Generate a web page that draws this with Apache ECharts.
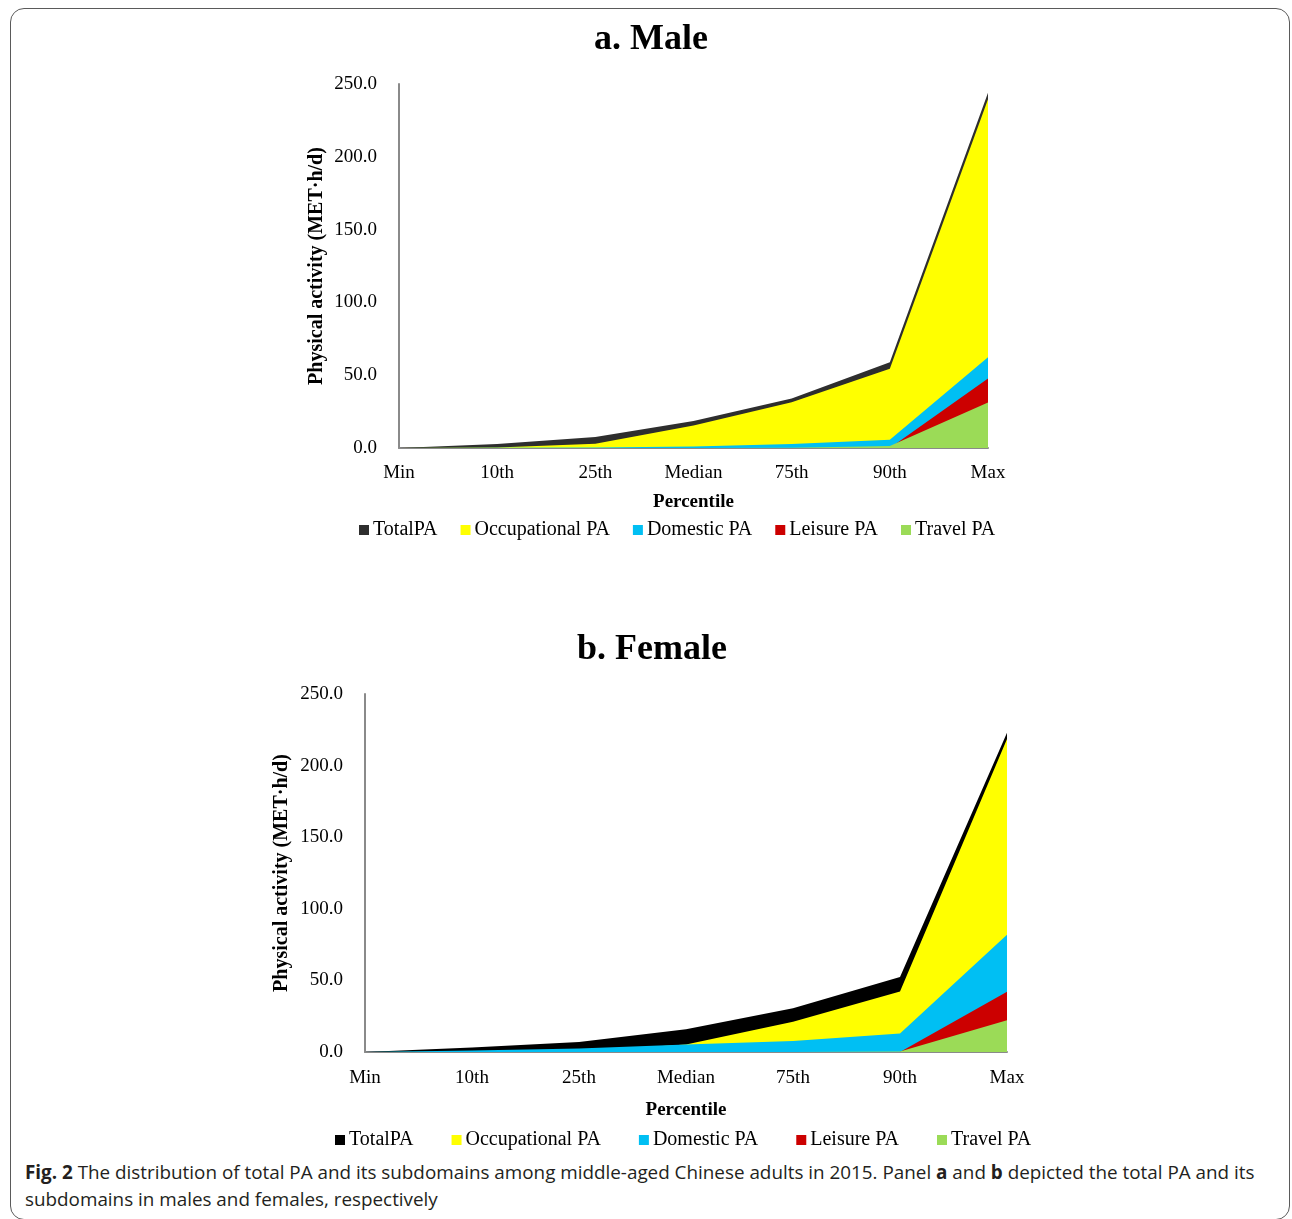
<!DOCTYPE html>
<html>
<head>
<meta charset="utf-8">
<script src="https://cdn.jsdelivr.net/npm/echarts@6/dist/echarts.min.js"></script>
<style>
  html, body { margin: 0; padding: 0; background: #fff; }
  #wrap { position: relative; width: 1292px; height: 1219px; overflow: hidden; }
  #frame { position: absolute; left: 10px; top: 8px; width: 1280px; height: 1212px;
           border: 1px solid #5a5a5a; border-radius: 14px; box-sizing: border-box; }
  #chart { position: absolute; left: 0; top: 0; width: 1292px; height: 1150px; }
  #caption { position: absolute; left: 25px; top: 1159px; font-family: "Open Sans", sans-serif;
             font-size: 18.85px; line-height: 27px; color: #231f20; white-space: nowrap; }
</style>
</head>
<body>
<div id="wrap">
  <div id="frame"></div>
  <div id="chart"></div>
  <div id="caption"><b>Fig. 2</b> The distribution of total PA and its subdomains among middle-aged Chinese adults in 2015. Panel <b>a</b> and <b>b</b> depicted the total PA and its<br>subdomains in males and females, respectively</div>
</div>
<script>
// Percentile points along the x axis
const categories = ['Min', '10th', '25th', 'Median', '75th', '90th', 'Max'];
const seriesNames = ['TotalPA', 'Occupational PA', 'Domestic PA', 'Leisure PA', 'Travel PA'];
const yTicks = [0, 50, 100, 150, 200, 250];

// Males (MET·h/d)
const maleTotal        = [0, 2.8, 7.5, 18.5, 34.0, 58.9, 244.0];
const maleOccupational = [0, 0.3, 2.9, 15.4, 31.5, 54.5, 239.5];
const maleDomestic     = [0, 0.1, 0.3, 1.0, 2.7, 5.7, 62.3];
const maleLeisure      = [0, 0, 0, 0, 0, 0, 47.8];
const maleTravel       = [0, 0, 0, 0, 0.1, 1.4, 31.3];

// Females (MET·h/d)
const femaleTotal        = [0, 3.2, 6.9, 15.9, 30.5, 52.4, 223.0];
const femaleOccupational = [0, 0.2, 0.5, 5.3, 21.1, 42.3, 218.5];
const femaleDomestic     = [0, 1.0, 2.4, 5.2, 7.6, 13.0, 81.8];
const femaleLeisure      = [0, 0, 0, 0, 0, 0, 42.0];
const femaleTravel       = [0, 0, 0, 0, 0, 0.3, 22.2];

const maleColors   = ['#2e2e2e', '#ffff00', '#00bff3', '#cc0000', '#9bdb57'];
const femaleColors = ['#000000', '#ffff00', '#00bff3', '#cc0000', '#9bdb57'];

const serif = '"Liberation Serif", "Times New Roman", serif';

function makeSeries(dataList, colors, idx) {
  return dataList.map((d, i) => ({
    name: seriesNames[i],
    type: 'line',
    xAxisIndex: idx,
    yAxisIndex: idx,
    data: d,
    symbol: 'none',
    silent: true,
    lineStyle: { width: 0 },
    areaStyle: { color: colors[i], opacity: 1 },
    itemStyle: { color: colors[i] },
    z: 2 + i
  }));
}

function xAxis(idx, margin, nameGap) {
  return {
    type: 'category', gridIndex: idx, data: categories, boundaryGap: false,
    axisLine: { lineStyle: { color: '#8a8a8a', width: 2 } },
    axisTick: { show: false },
    axisLabel: { color: '#000', fontFamily: serif, fontSize: 19, margin: margin },
    name: 'Percentile', nameLocation: 'middle', nameGap: nameGap,
    nameTextStyle: { color: '#000', fontFamily: serif, fontSize: 19, fontWeight: 'bold' },
    splitLine: { show: false }
  };
}

function yAxis(idx, nameGap) {
  return {
    type: 'value', gridIndex: idx, min: yTicks[0], max: yTicks[yTicks.length - 1], interval: 50,
    axisLine: { show: true, lineStyle: { color: '#8a8a8a', width: 2 } },
    axisTick: { show: false },
    axisLabel: { color: '#000', fontFamily: serif, fontSize: 19, margin: 22,
                 formatter: v => v.toFixed(1) },
    splitLine: { show: false },
    name: 'Physical activity (MET·h/d)', nameLocation: 'middle', nameGap: nameGap,
    nameTextStyle: { color: '#000', fontFamily: serif, fontSize: 20, fontWeight: 'bold' }
  };
}

function legend(colors, left, top, gap) {
  return {
    left: left, top: top, itemGap: gap, itemWidth: 10, itemHeight: 10, icon: 'rect',
    selectedMode: false, padding: 0, itemStyle: { borderWidth: 0 },
    textStyle: { color: '#000', fontFamily: serif, fontSize: 20, padding: [0, 0, 0, -1] },
    data: seriesNames.map((n, i) => ({ name: n, itemStyle: { color: colors[i] } }))
  };
}

const chart = echarts.init(document.getElementById('chart'), null, { renderer: 'canvas' });
chart.setOption({
  animation: false,
  backgroundColor: 'transparent',
  title: [
    { text: 'a. Male', left: 594, top: 22, padding: 0,
      textStyle: { fontFamily: serif, fontSize: 36, fontWeight: 'bold', color: '#000' } },
    { text: 'b. Female', left: 577, top: 632, padding: 0,
      textStyle: { fontFamily: serif, fontSize: 36, fontWeight: 'bold', color: '#000' } }
  ],
  grid: [
    { left: 399, top: 84, width: 589, height: 364 },
    { left: 365, top: 694, width: 642, height: 358 }
  ],
  xAxis: [xAxis(0, 16, 45), xAxis(1, 17, 49)],
  yAxis: [yAxis(0, 72), yAxis(1, 73)],
  legend: [
    legend(maleColors, 359, 520, 23),
    legend(femaleColors, 335, 1130, 38)
  ],
  series: makeSeries([maleTotal, maleOccupational, maleDomestic, maleLeisure, maleTravel], maleColors, 0)
    .concat(makeSeries([femaleTotal, femaleOccupational, femaleDomestic, femaleLeisure, femaleTravel], femaleColors, 1))
});
</script>
</body>
</html>
